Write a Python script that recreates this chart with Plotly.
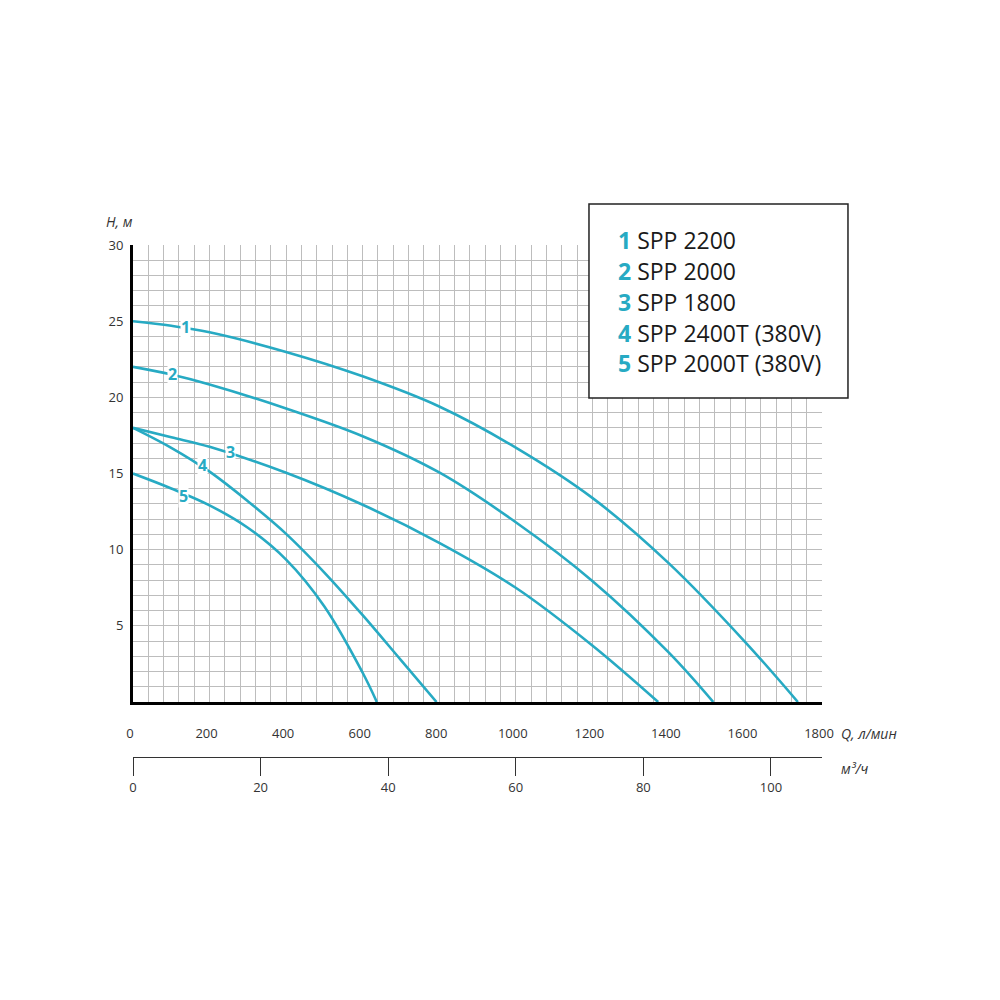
import plotly.graph_objects as go

# напорно-расходные характеристики насосов (Q, л/мин ; H, м)
q1 = [0, 100, 200, 400, 600, 800, 1000, 1200, 1400, 1600, 1737]
h1 = [25, 24.7, 24.27, 22.98, 21.38, 19.4, 16.7, 13.4, 9.1, 3.92, 0]

q2 = [0, 100, 200, 400, 600, 800, 1000, 1200, 1400, 1516]
h2 = [22, 21.5, 20.85, 19.27, 17.45, 15.07, 11.8, 7.95, 3.24, 0]

q3 = [0, 100, 200, 400, 600, 800, 1000, 1200, 1372]
h3 = [18, 17.375, 16.75, 15.05, 12.95, 10.45, 7.5, 3.71, 0]

q4 = [0, 100, 200, 300, 400, 500, 600, 700, 793]
h4 = [18, 16.69, 15.12, 13.18, 11.04, 8.5, 5.7, 2.75, 0]

q5 = [0, 100, 200, 300, 400, 500, 600, 637]
h5 = [15, 14.02, 12.91, 11.44, 9.35, 6.27, 1.92, 0]

curve_nums = ['1', '2', '3', '4', '5']
label_q = [136, 102, 254, 182, 133]
label_h = [24.6, 21.5, 16.4, 15.55, 13.5]

models = ['SPP 2200', 'SPP 2000', 'SPP 1800', 'SPP 2400T (380V)', 'SPP 2000T (380V)']

q_ticks = [0, 200, 400, 600, 800, 1000, 1200, 1400, 1600, 1800]
m3_ticks = [0, 20, 40, 60, 80, 100]
h_ticks = [5, 10, 15, 20, 25, 30]

CYAN = '#27aac3'
TXT = '#333333'
GRID = '#bdbdbd'
FONT = 'Open Sans'

fig = go.Figure()
for q, h in zip([q1, q2, q3, q4, q5], [h1, h2, h3, h4, h5]):
    fig.add_trace(go.Scatter(x=q, y=h, mode='lines',
                             line=dict(color=CYAN, width=2.6, shape='spline', smoothing=1),
                             showlegend=False, hoverinfo='skip'))

# dummy trace so the m3/h axis is drawn
fig.add_trace(go.Scatter(x=[0], y=[0], xaxis='x2', yaxis='y', mode='markers',
                         marker=dict(opacity=0), showlegend=False, hoverinfo='skip'))

# curve numbers
for n, q, h in zip(curve_nums, label_q, label_h):
    fig.add_annotation(x=q, y=h, text=f'<b>{n}</b>', showarrow=False, bgcolor='white', borderpad=0,
                       font=dict(family=FONT, size=16, color=CYAN))

# legend box
fig.add_shape(type='rect', xref='paper', yref='paper', x0=0.6618, x1=1.0377, y0=0.7339, y1=1.0713,
              line=dict(color='#222222', width=1.5), fillcolor='white', layer='above')
leg_y = [1.0087, 0.9548, 0.9009, 0.8470, 0.7948]
for n, name, y in zip(curve_nums, models, leg_y):
    fig.add_annotation(xref='paper', yref='paper', x=0.701, y=y, xanchor='left', yanchor='middle',
                       text=f"<b><span style='color:{CYAN}'>{n}</span></b> {name}", showarrow=False,
                       font=dict(family=FONT, size=23, color='#1a1a1a'))

# axis titles
fig.add_annotation(xref='paper', yref='paper', x=0.003, y=1.04, xanchor='right', yanchor='middle',
                   text='<i>H, м</i>', showarrow=False, font=dict(family=FONT, size=14, color=TXT))
fig.add_annotation(xref='paper', yref='paper', x=1.024, y=0.1504, xanchor='left', yanchor='middle',
                   text='<i>Q, л/мин</i>', showarrow=False, font=dict(family=FONT, size=14, color=TXT))
fig.add_annotation(xref='paper', yref='paper', x=1.024, y=0.0887, xanchor='left', yanchor='middle',
                   text='<i>м³/ч</i>', showarrow=False, font=dict(family=FONT, size=14, color=TXT))

fig.update_layout(
    width=1000, height=1000,
    margin=dict(l=125, r=186, t=237, b=188),
    plot_bgcolor='white', paper_bgcolor='white',
    font=dict(family=FONT, size=13, color=TXT),
    xaxis=dict(range=[0, 1800], tickvals=q_ticks, showgrid=True, gridcolor=GRID, gridwidth=1,
               minor=dict(dtick=40, showgrid=True, gridcolor=GRID, gridwidth=1),
               showline=True, linecolor='black', linewidth=3, zeroline=False,
               ticks='', ticklabelstandoff=17, ticklabelshift=-3, anchor='y'),
    xaxis2=dict(range=[0, 108], tickvals=m3_ticks, overlaying='x', anchor='free', position=0.1096,
                side='bottom', showgrid=False, zeroline=False, showline=True, linecolor=TXT,
                linewidth=1, ticks='outside', ticklen=18, tickcolor=TXT, tickwidth=1),
    yaxis=dict(range=[0, 30], domain=[0.2052, 1], tickvals=h_ticks, showgrid=True, gridcolor=GRID,
               gridwidth=1, minor=dict(dtick=1, showgrid=True, gridcolor=GRID, gridwidth=1),
               showline=True, linecolor='black', linewidth=3, zeroline=False, ticks='',
               ticklabelstandoff=4),
)

fig.write_html("out.html")
